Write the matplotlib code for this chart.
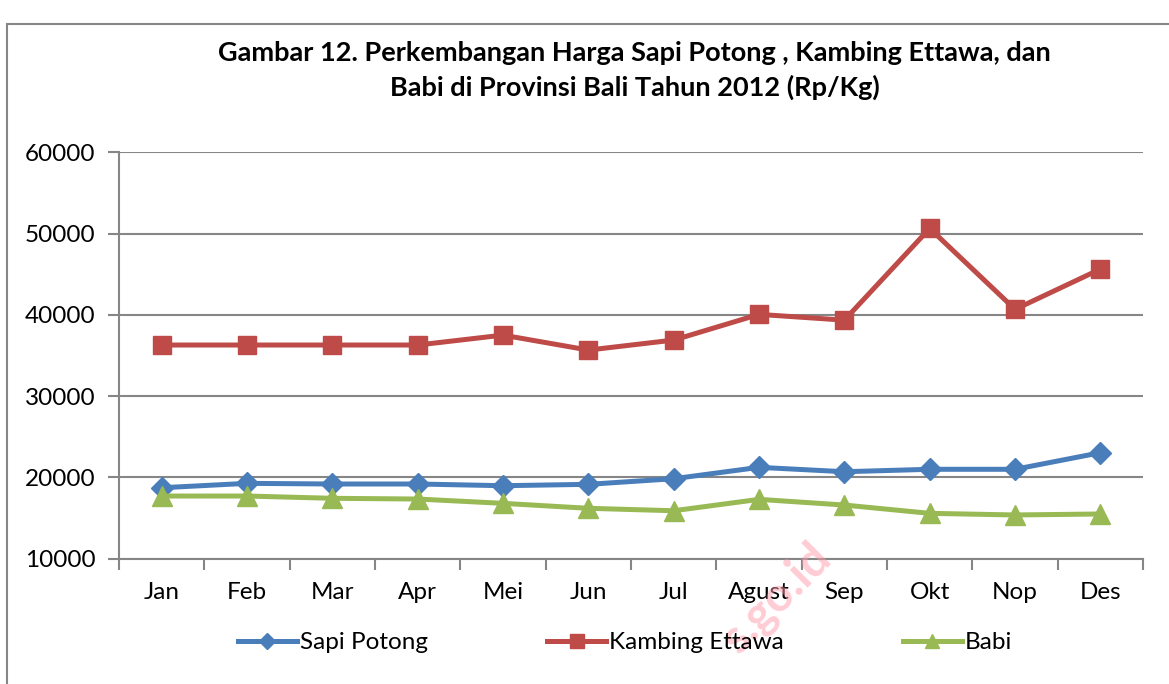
import matplotlib
matplotlib.use("Agg")
import matplotlib.pyplot as plt
from matplotlib.patches import Rectangle

bulan = ['Jan', 'Feb', 'Mar', 'Apr', 'Mei', 'Jun', 'Jul', 'Agust', 'Sep', 'Okt', 'Nop', 'Des']
sapi_potong = [18730, 19270, 19190, 19190, 18980, 19150, 19840, 21240, 20700, 21000, 21000, 23040]
kambing_ettawa = [36290, 36290, 36290, 36290, 37510, 35670, 36900, 40060, 39350, 50640, 40680, 45630]
babi = [17710, 17710, 17430, 17340, 16810, 16200, 15900, 17300, 16600, 15580, 15380, 15500]
y_ticks = [10000, 20000, 30000, 40000, 50000, 60000]

plt.rcParams['font.family'] = ['Lato', 'DejaVu Sans']
grey = '#868686'

fig = plt.figure(figsize=(11.69, 6.84), dpi=100)
ax = fig.add_axes([0.1018, 0.1832, 0.8760, 0.5941])

# chart area border (top and left visible)
fig.patches.append(Rectangle((7 / 1169, -0.1), 1.2, 1 - 24 / 684 + 0.1,
                             transform=fig.transFigure, fill=False,
                             edgecolor=grey, linewidth=1.5))

x = list(range(len(bulan)))
ax.plot(x, sapi_potong, color='#4A7EBB', lw=3.6, marker='D', ms=11, label='Sapi Potong', zorder=4)
ax.plot(x, kambing_ettawa, color='#BE4B48', lw=3.6, marker='s', ms=13, label='Kambing Ettawa', zorder=4)
ax.plot(x, babi, color='#98B954', lw=3.6, marker='^', ms=14, label='Babi', zorder=4)

ax.set_xlim(-0.5, len(bulan) - 0.5)
ax.set_ylim(10000, 60000)
ax.set_yticks(y_ticks)
ax.set_yticklabels([str(v) for v in y_ticks])
ax.yaxis.grid(True, color=grey, lw=1.5)
ax.set_axisbelow(True)

ax.set_xticks(x)
ax.set_xticklabels(bulan)
ax.set_xticks([i - 0.5 for i in range(len(bulan) + 1)], minor=True)
ax.tick_params(axis='x', which='major', length=0, pad=17, labelsize=17.5)
ax.tick_params(axis='x', which='minor', length=8, width=1.5, color=grey, direction='out')
ax.tick_params(axis='y', length=8, width=1.5, color=grey, direction='out', pad=9, labelsize=17.5)

for side in ['top', 'right']:
    ax.spines[side].set_visible(False)
for side in ['left', 'bottom']:
    ax.spines[side].set_color(grey)
    ax.spines[side].set_linewidth(1.5)

fig.text(0.543, 0.897, 'Gambar 12. Perkembangan Harga Sapi Potong , Kambing Ettawa, dan\n'
         'Babi di Provinsi Bali Tahun 2012 (Rp/Kg)',
         ha='center', va='center', fontsize=19.5, fontweight='bold', linespacing=1.45)

fig.legend(loc='center', bbox_to_anchor=(0.535, 0.06), ncol=3, frameon=False,
           fontsize=17.5, handlelength=2.4, handletextpad=0.15, columnspacing=4.9,
           markerscale=0.75)

# faint watermark
fig.text(808 / 1169, 1 - 535 / 684, 's.go.id', rotation=45, color='#ff9aaa', alpha=0.5,
         fontsize=34, fontweight='bold', ha='right', va='top', rotation_mode='anchor', zorder=0)

fig.savefig('out.png', dpi=100)
